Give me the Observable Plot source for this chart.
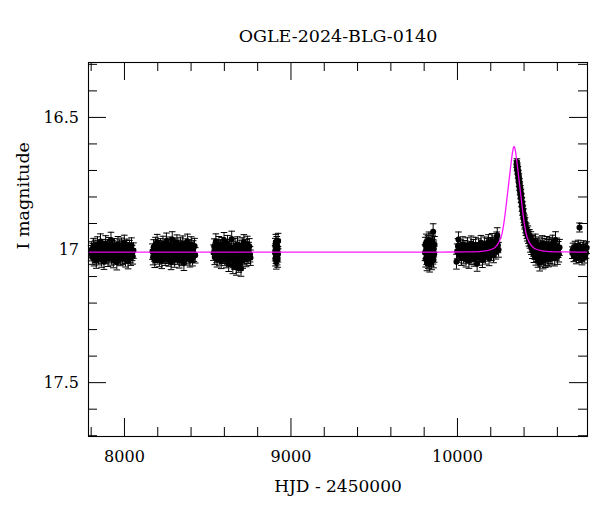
<!DOCTYPE html>
<html>
<head>
<meta charset="utf-8">
<script src="https://cdn.jsdelivr.net/npm/d3@7"></script>
<script src="https://cdn.jsdelivr.net/npm/@observablehq/plot@0.6"></script>
<style>
  html, body { margin: 0; padding: 0; background: #fff; }
</style>
</head>
<body>
<div id="chart"></div>
<script>
// ---- Data (HJD - 2450000, I magnitude) ----
const title = "OGLE-2024-BLG-0140";
const xLabel = "HJD - 2450000";
const yLabel = "I magnitude";

const xMajorTicks = [8000, 9000, 10000];
const xMinorTicks = [7800, 8200, 8400, 8600, 8800, 9200, 9400, 9600, 9800, 10200, 10400, 10600];
const yMajorTicks = [16.5, 17, 17.5];
const yMinorTicks = [16.3, 16.4, 16.6, 16.7, 16.8, 16.9, 17.1, 17.2, 17.3, 17.4, 17.6, 17.7];

// [HJD, mag] pairs, with a typical error per season
const season2017 = [[7800,17.012],[7803,16.998],[7807,17.025],[7810,17.004],[7814,16.985],[7817,17.031],[7821,17.010],[7824,16.992],[7828,17.018],[7831,17.040],[7835,17.002],[7838,16.979],[7842,17.015],[7845,17.027],[7849,16.995],[7852,17.008],[7856,16.968],[7859,17.021],[7863,17.036],[7866,17.001],[7870,16.989],[7873,17.014],[7877,17.044],[7880,16.997],[7884,17.009],[7887,16.975],[7891,17.023],[7894,17.006],[7898,16.990],[7901,17.033],[7905,17.012],[7908,16.982],[7912,17.019],[7915,17.000],[7919,16.962],[7922,17.028],[7926,17.011],[7929,16.994],[7933,17.038],[7936,17.005],[7940,16.986],[7943,17.017],[7947,17.024],[7950,16.999],[7954,17.046],[7957,17.007],[7961,16.978],[7964,17.020],[7968,17.013],[7971,16.991],[7975,17.030],[7978,17.003],[7982,16.984],[7985,17.016],[7989,17.026],[7992,16.996],[7996,17.010],[7999,16.973],[8003,17.022],[8006,17.035],[8010,17.001],[8014,16.988],[8018,17.015],[8022,17.042],[8026,17.004],[8030,16.993],[8034,17.019],[8038,17.029],[8042,16.983],[8046,17.011],[8050,17.024],[8054,17.002]];
const season2018 = [[8168,17.006],[8172,17.027],[8175,16.990],[8179,17.013],[8182,17.037],[8186,16.981],[8189,17.018],[8193,17.002],[8196,16.970],[8200,17.024],[8203,17.009],[8207,16.993],[8210,17.034],[8214,17.015],[8217,16.986],[8221,17.000],[8224,17.041],[8228,17.011],[8231,16.977],[8235,17.020],[8238,17.005],[8242,16.996],[8245,17.029],[8249,17.014],[8252,16.965],[8256,17.022],[8259,17.008],[8263,16.988],[8266,17.032],[8270,17.017],[8273,16.980],[8277,17.003],[8280,17.045],[8284,17.010],[8287,16.960],[8291,17.026],[8294,16.997],[8298,17.012],[8301,17.036],[8305,16.984],[8308,17.019],[8312,17.001],[8315,16.972],[8319,17.025],[8322,17.007],[8326,16.992],[8329,17.039],[8333,17.016],[8336,16.983],[8340,17.004],[8343,17.030],[8347,17.012],[8350,16.976],[8354,17.021],[8357,17.048],[8361,16.995],[8364,17.009],[8368,16.987],[8371,17.028],[8375,17.013],[8378,16.969],[8382,17.023],[8385,17.002],[8389,16.990],[8393,17.035],[8397,17.008],[8401,16.979],[8405,17.018],[8409,17.031],[8413,16.994],[8417,17.014],[8421,16.985],[8425,17.020]];
const season2019 = [[8535,17.010],[8539,16.987],[8542,17.026],[8546,17.003],[8549,16.968],[8553,17.019],[8556,17.035],[8560,16.994],[8563,17.011],[8567,16.978],[8570,17.028],[8574,17.006],[8577,16.990],[8581,17.041],[8584,17.015],[8588,16.982],[8591,17.022],[8595,17.001],[8598,16.963],[8602,17.030],[8605,17.013],[8609,16.996],[8612,17.038],[8616,17.008],[8619,16.974],[8623,17.024],[8626,17.052],[8630,17.004],[8633,16.989],[8637,17.033],[8640,17.017],[8644,16.958],[8647,17.026],[8651,17.060],[8654,16.998],[8658,17.012],[8661,17.044],[8665,16.985],[8668,17.021],[8672,17.066],[8675,17.007],[8679,16.979],[8682,17.036],[8686,17.055],[8689,17.014],[8693,16.992],[8696,17.048],[8700,17.070],[8703,17.018],[8707,16.983],[8710,17.040],[8714,17.009],[8717,16.971],[8721,17.027],[8724,17.003],[8728,16.990],[8731,17.034],[8735,17.012],[8738,16.977],[8742,17.022],[8746,17.000],[8750,16.986],[8754,17.016],[8757,17.029]];
const season2020 = [[8905,17.012],[8906,16.985],[8907,17.031],[8908,17.004],[8909,16.970],[8910,17.022],[8912,17.043],[8913,16.994],[8914,17.010],[8915,16.978],[8917,17.027],[8918,17.000],[8919,16.988],[8920,17.036],[8922,17.016],[8923,16.966]];
const season2022 = [[9805,17.010],[9807,16.982],[9809,17.034],[9811,17.002],[9813,16.970],[9815,17.025],[9817,17.048],[9819,16.993],[9821,17.014],[9823,16.976],[9825,17.039],[9827,17.006],[9829,16.962],[9831,17.028],[9833,17.053],[9835,16.988],[9837,17.019],[9839,17.001],[9841,16.967],[9843,17.031],[9845,17.044],[9847,16.985],[9849,17.011],[9851,16.974],[9853,17.023],[9854,16.931],[9856,17.037],[9858,16.996],[9860,17.016],[9862,16.979]];
const season2023 = [[9994,17.044],[9998,17.005],[10003,16.985],[10006,16.960],[10010,17.018],[10015,17.002],[10019,16.990],[10024,17.030],[10028,17.011],[10033,16.978],[10037,17.024],[10042,17.003],[10046,16.992],[10051,17.036],[10055,17.009],[10060,16.982],[10064,17.020],[10069,17.041],[10073,16.997],[10078,17.013],[10082,16.975],[10087,17.027],[10091,17.004],[10096,16.988],[10100,17.033],[10105,17.015],[10109,16.980],[10114,17.022],[10118,17.052],[10123,17.000],[10127,16.986],[10132,17.029],[10136,17.010],[10141,16.973],[10145,17.018],[10150,17.038],[10154,16.995],[10159,17.006],[10163,16.979],[10168,17.025],[10172,17.002],[10177,16.984],[10181,17.014],[10186,16.970],[10190,17.031],[10195,16.998],[10199,16.981],[10204,17.012],[10208,16.966],[10213,16.994],[10217,17.020],[10222,16.975],[10226,16.988],[10231,17.006],[10235,16.960],[10239,16.944],[10243,16.982],[10247,16.999]];
const seasonErrors = {2017: 0.029, 2018: 0.029, 2019: 0.029, 2020: 0.029, 2022: 0.030, 2023: 0.028};

// [HJD, mag, error] for the event season and the following one
const season2024 = [[10355,16.676,0.012],[10357,16.668,0.012],[10358,16.689,0.012],[10360,16.684,0.012],[10361,16.702,0.012],[10363,16.698,0.013],[10364,16.716,0.013],[10366,16.712,0.013],[10367,16.731,0.013],[10369,16.726,0.013],[10370,16.748,0.013],[10372,16.744,0.014],[10373,16.762,0.014],[10375,16.757,0.014],[10376,16.778,0.014],[10378,16.771,0.014],[10379,16.792,0.015],[10381,16.786,0.015],[10382,16.806,0.015],[10384,16.801,0.015],[10385,16.822,0.015],[10387,16.818,0.016],[10388,16.838,0.016],[10390,16.833,0.016],[10391,16.853,0.016],[10393,16.848,0.017],[10394,16.866,0.017],[10396,16.861,0.017],[10398,16.879,0.018],[10400,16.890,0.018],[10402,16.886,0.018],[10404,16.902,0.019],[10406,16.897,0.019],[10409,16.915,0.020],[10411,16.925,0.020],[10414,16.919,0.020],[10417,16.936,0.021],[10420,16.944,0.022],[10423,16.931,0.022],[10426,16.952,0.023],[10429,16.961,0.024],[10432,16.947,0.024],[10435,16.968,0.025],[10438,16.982,0.026],[10441,16.957,0.026],[10444,16.990,0.027],[10447,16.972,0.027],[10450,17.004,0.028],[10453,16.978,0.028],[10456,16.995,0.028],[10459,17.018,0.029],[10462,16.985,0.029],[10465,17.006,0.029],[10468,16.970,0.030],[10471,17.027,0.030],[10474,16.999,0.030],[10477,17.013,0.030],[10480,16.988,0.030],[10483,17.035,0.030],[10486,17.004,0.030],[10489,16.981,0.030],[10492,17.022,0.030],[10494,17.048,0.031],[10497,17.009,0.030],[10500,16.993,0.030],[10503,17.031,0.030],[10506,17.015,0.030],[10509,16.976,0.030],[10512,17.024,0.030],[10515,17.040,0.031],[10518,17.002,0.030],[10521,16.986,0.030],[10524,17.019,0.030],[10527,17.036,0.030],[10530,16.997,0.030],[10533,17.011,0.030],[10536,16.979,0.030],[10539,17.028,0.030],[10542,17.006,0.030],[10545,16.990,0.030],[10548,17.033,0.030],[10551,17.014,0.030],[10554,16.982,0.030],[10557,17.021,0.030],[10560,17.003,0.030],[10564,16.988,0.030],[10568,17.026,0.030],[10572,16.974,0.030],[10576,17.010,0.030],[10580,16.995,0.030],[10584,17.030,0.030],[10589,16.962,0.031],[10593,17.008,0.030],[10597,16.985,0.030],[10601,17.024,0.030],[10605,16.998,0.030],[10609,17.015,0.030],[10613,16.990,0.030]];
const season2025 = [[10690,17.010,0.022],[10694,16.996,0.022],[10698,17.022,0.022],[10702,17.004,0.022],[10706,16.989,0.022],[10710,17.018,0.022],[10714,17.030,0.022],[10718,16.998,0.022],[10722,17.012,0.022],[10726,16.985,0.022],[10730,17.025,0.022],[10733,16.915,0.017],[10736,17.006,0.022],[10740,16.993,0.022],[10744,17.020,0.022],[10748,17.034,0.022],[10752,17.001,0.022],[10756,16.987,0.022],[10760,17.015,0.022],[10764,17.027,0.022],[10768,16.996,0.022],[10772,17.009,0.022],[10776,16.991,0.022]];

// Model (magenta) light curve: [HJD, mag]
const modelCurve = [[7784,17.008],[9900,17.008],[10040,17.007],[10090,17.007],[10170,17.003],[10220,16.993],[10247,16.973],[10268,16.937],[10284,16.875],[10296,16.812],[10310,16.737],[10324,16.662],[10332,16.626],[10336,16.614],[10340,16.609],[10344,16.614],[10348,16.626],[10356,16.662],[10370,16.737],[10384,16.812],[10396,16.875],[10412,16.937],[10433,16.973],[10460,16.993],[10510,17.003],[10590,17.007],[10640,17.007],[10781,17.008]];

const xDomain = [7784, 10781];
const yDomain = [16.293, 17.703];

// ---- Build rows ----
const rows = [];
for (const [year, pts] of [[2017, season2017], [2018, season2018], [2019, season2019], [2020, season2020], [2022, season2022], [2023, season2023]]) {
  for (const [t, m] of pts) rows.push({t, m, e: seasonErrors[year]});
}
for (const pts of [season2024, season2025]) {
  for (const [t, m, e] of pts) rows.push({t, m, e});
}
const model = modelCurve.map(([t, m]) => ({t, m}));

// ---- Layout ----
const W = 600, H = 512;
const mL = 88, mR = 13, mT = 62, mB = 76;
const fw = W - mL - mR, fh = H - mT - mB;
const minorLen = 9, majorLen = 18;
const font = "'DejaVu Serif', serif";

const cap = {
  draw(context) { context.moveTo(-3.3, 0); context.lineTo(3.3, 0); }
};

const chart = Plot.plot({
  width: W,
  height: H,
  marginLeft: mL, marginRight: mR, marginTop: mT, marginBottom: mB,
  style: {fontFamily: font, fontSize: "16px", background: "white", color: "black"},
  x: {domain: xDomain, axis: null},
  y: {domain: yDomain, reverse: true, axis: null},
  marks: [
    // error bars
    Plot.ruleX(rows, {x: "t", y1: d => d.m - d.e, y2: d => d.m + d.e, stroke: "black", strokeWidth: 1}),
    Plot.dot(rows, {x: "t", y: d => d.m - d.e, symbol: cap, stroke: "black", fill: "none", strokeWidth: 1}),
    Plot.dot(rows, {x: "t", y: d => d.m + d.e, symbol: cap, stroke: "black", fill: "none", strokeWidth: 1}),
    // points
    Plot.dot(rows, {x: "t", y: "m", r: 3, fill: "black", stroke: "none"}),
    // model
    Plot.line(model, {x: "t", y: "m", stroke: "#ff00ff", strokeWidth: 1.3, strokeOpacity: 0.9, curve: "monotone-x"}),
    // frame
    Plot.frame({stroke: "black", strokeWidth: 1.1}),
    // inward ticks: bottom & top
    Plot.tickX(xMinorTicks, {x: d => d, insetTop: fh - minorLen, stroke: "black"}),
    Plot.tickX(xMajorTicks, {x: d => d, insetTop: fh - majorLen, stroke: "black"}),
    Plot.tickX(xMinorTicks, {x: d => d, insetBottom: fh - minorLen, stroke: "black"}),
    Plot.tickX(xMajorTicks, {x: d => d, insetBottom: fh - majorLen, stroke: "black"}),
    // inward ticks: left & right
    Plot.tickY(yMinorTicks, {y: d => d, insetRight: fw - minorLen, stroke: "black"}),
    Plot.tickY(yMajorTicks, {y: d => d, insetRight: fw - majorLen, stroke: "black"}),
    Plot.tickY(yMinorTicks, {y: d => d, insetLeft: fw - minorLen, stroke: "black"}),
    Plot.tickY(yMajorTicks, {y: d => d, insetLeft: fw - majorLen, stroke: "black"}),
    // tick labels
    Plot.axisX(xMajorTicks, {anchor: "bottom", tickSize: 0, tickPadding: 14, tickFormat: d => String(d), fontSize: 16, fontFamily: font, fill: "black", label: null}),
    Plot.axisY(yMajorTicks, {anchor: "left", tickSize: 0, tickPadding: 9.5, tickFormat: d => String(d), fontSize: 16, fontFamily: font, fill: "black", label: null}),
    // axis titles and chart title
    Plot.text([xLabel], {frameAnchor: "bottom", lineAnchor: "bottom", dy: 55.5, fontSize: 17, fontFamily: font, fill: "black"}),
    Plot.text([yLabel], {frameAnchor: "left", lineAnchor: "bottom", rotate: -90, dx: -60, fontSize: 17.5, fontFamily: font, fill: "black"}),
    Plot.text([title], {frameAnchor: "top", lineAnchor: "bottom", dy: -20.3, fontSize: 17.5, fontFamily: font, fill: "black"})
  ]
});

document.getElementById("chart").appendChild(chart);
</script>
</body>
</html>
